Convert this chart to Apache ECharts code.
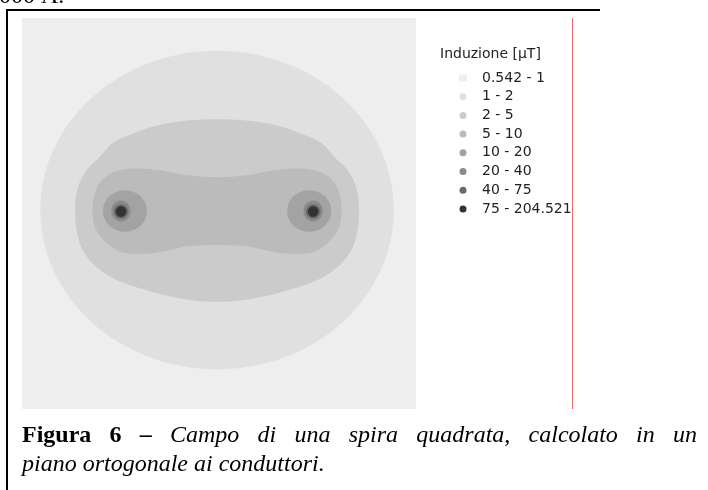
<!DOCTYPE html>
<html>
<head>
<meta charset="utf-8">
<script src="https://cdn.jsdelivr.net/npm/echarts@6/dist/echarts.min.js"></script>
<style>
  html, body { margin: 0; padding: 0; background: #fff; }
  #chart { width: 708px; height: 490px; }
</style>
</head>
<body>
<div id="chart"></div>
<script>
// classi di induzione [μT]
const levels = ['0.542 - 1', '1 - 2', '2 - 5', '5 - 10', '10 - 20', '20 - 40', '40 - 75', '75 - 204.521']
const levelColors = ['#eeeeee', '#e0e0e0', '#cbcbcb', '#bbbbbb', '#a3a3a3', '#8a8a8a', '#6a6a6a', '#333333']

// piano di calcolo (conduttori a x = -1 e x = +1)
const extentX = [-2.02, 2.06]
const extentY = [-2.05, 2.0]
const background = [[-2.02, 2.0], [2.06, 2.0], [2.06, -2.05], [-2.02, -2.05]]

// curve di livello lette dalla figura
// ellissi: [cx, cy, rx, ry]
const outerOval = [[0, 0.01, 1.83, 1.65]]
const peanut = [
  [0, 0.95], [-0.38, 0.93], [-0.66, 0.875], [-0.90, 0.79], [-1.08, 0.705], [-1.21, 0.565],
  [-1.35, 0.425], [-1.44, 0.25], [-1.47, 0.045], [-1.455, -0.195], [-1.39, -0.405], [-1.25, -0.58],
  [-1.04, -0.715], [-0.73, -0.82], [-0.38, -0.905], [0, -0.94], [0.38, -0.905], [0.73, -0.82],
  [1.04, -0.715], [1.25, -0.58], [1.39, -0.405], [1.455, -0.195], [1.47, 0.045], [1.44, 0.25],
  [1.35, 0.425], [1.21, 0.565], [1.08, 0.705], [0.90, 0.79], [0.66, 0.875], [0.38, 0.93]
]
const dumbbell = [
  [0, 0.35], [-0.31, 0.37], [-0.49, 0.405], [-0.66, 0.43], [-0.83, 0.44], [-1.0, 0.425],
  [-1.14, 0.365], [-1.23, 0.27], [-1.275, 0.15], [-1.29, 0.01], [-1.275, -0.13], [-1.23, -0.23],
  [-1.14, -0.335], [-1.0, -0.42], [-0.83, -0.445], [-0.66, -0.435], [-0.49, -0.405], [-0.31, -0.365],
  [0, -0.35], [0.31, -0.365], [0.49, -0.405], [0.66, -0.435], [0.83, -0.445], [1.0, -0.42],
  [1.14, -0.335], [1.23, -0.23], [1.275, -0.13], [1.29, 0.01], [1.275, 0.15], [1.23, 0.27],
  [1.14, 0.365], [1.0, 0.425], [0.83, 0.44], [0.66, 0.43], [0.49, 0.405], [0.31, 0.37]
]
const ring10 = [[-0.954, 0, 0.228, 0.215], [0.954, 0, 0.228, 0.215]]
const ring20 = [[-0.995, 0, 0.10, 0.11], [0.995, 0, 0.10, 0.11]]
const ring40 = [[-0.995, -0.005, 0.075, 0.075], [0.995, -0.005, 0.075, 0.075]]
const core75 = [[-0.995, -0.005, 0.055, 0.055], [0.995, -0.005, 0.055, 0.055]]

function polySeries(name, color, pts, smooth) {
  return {
    type: 'custom',
    name: name,
    coordinateSystem: 'cartesian2d',
    silent: true,
    animation: false,
    itemStyle: { color: color },
    data: pts,
    renderItem: function(params, api) {
      if (params.dataIndex !== 0) return null
      return {
        type: 'polygon',
        shape: { points: pts.map(p => api.coord(p)), smooth: smooth },
        style: { fill: color }
      }
    }
  }
}

function ellipseSeries(name, color, list) {
  return {
    type: 'custom',
    name: name,
    coordinateSystem: 'cartesian2d',
    silent: true,
    animation: false,
    itemStyle: { color: color },
    data: list,
    renderItem: function(params, api) {
      const c = api.coord([api.value(0), api.value(1)])
      const s = api.size([api.value(2), api.value(3)])
      return {
        type: 'ellipse',
        shape: { cx: c[0], cy: c[1], rx: s[0], ry: s[1] },
        style: { fill: color }
      }
    }
  }
}

// didascalia giustificata
const ctx = document.createElement('canvas').getContext('2d')
function textW(font, t) {
  ctx.font = font
  return ctx.measureText(t).width
}
const boldFont = 'bold 24px "Liberation Serif"'
const itFont = 'italic 24px "Liberation Serif"'
const line1 = [
  ['Figura', boldFont], ['6', boldFont], ['–', boldFont], ['Campo', itFont], ['di', itFont],
  ['una', itFont], ['spira', itFont], ['quadrata,', itFont], ['calcolato', itFont], ['in', itFont], ['un', itFont]
]
const lineLeft = 22
const lineRight = 697
let wordsW = 0
line1.forEach(w => { wordsW += textW(w[1], w[0]) })
const gap = (lineRight - lineLeft - wordsW) / (line1.length - 1)
const captionEls = []
let cx = lineLeft
line1.forEach(w => {
  captionEls.push({
    type: 'text', x: cx, y: 436,
    style: { text: w[0], font: w[1], fill: '#000', verticalAlign: 'middle' }
  })
  cx += textW(w[1], w[0]) + gap
})
captionEls.push({
  type: 'text', x: lineLeft, y: 465,
  style: { text: 'piano ortogonale ai conduttori.', font: itFont, fill: '#000', verticalAlign: 'middle' }
})

const chart = echarts.init(document.getElementById('chart'), null, { renderer: 'canvas' })
chart.setOption({
  animation: false,
  backgroundColor: '#fff',
  grid: { left: 22, top: 18, width: 394, height: 391 },
  xAxis: { type: 'value', min: extentX[0], max: extentX[1], show: false },
  yAxis: { type: 'value', min: extentY[0], max: extentY[1], show: false },
  legend: {
    orient: 'vertical',
    left: 454,
    top: 66,
    itemWidth: 8,
    itemHeight: 7,
    itemGap: 4.7,
    selectedMode: false,
    formatter: n => '{g|}' + n,
    textStyle: {
      fontFamily: 'DejaVu Sans', fontSize: 14, lineHeight: 14, color: '#222',
      rich: { g: { width: 10 } }
    },
    data: levels.map((n, i) => ({ name: n, icon: i === 0 ? 'rect' : 'circle' }))
  },
  series: [
    polySeries(levels[0], levelColors[0], background, 0),
    ellipseSeries(levels[1], levelColors[1], outerOval),
    polySeries(levels[2], levelColors[2], peanut, 0.35),
    polySeries(levels[3], levelColors[3], dumbbell, 0.35),
    ellipseSeries(levels[4], levelColors[4], ring10),
    ellipseSeries(levels[5], levelColors[5], ring20),
    ellipseSeries(levels[6], levelColors[6], ring40),
    ellipseSeries(levels[7], levelColors[7], core75)
  ],
  graphic: [
    { type: 'rect', shape: { x: 6, y: 9, width: 2, height: 481 }, style: { fill: '#000' } },
    { type: 'rect', shape: { x: 6, y: 9, width: 594, height: 2 }, style: { fill: '#000' } },
    { type: 'line', shape: { x1: 572.5, y1: 18, x2: 572.5, y2: 409 }, style: { stroke: '#e86a6a', lineWidth: 1 } },
    { type: 'text', x: -1, y: 9, style: { text: '000 A.', font: '24px "Liberation Serif"', fill: '#000', verticalAlign: 'bottom' } },
    { type: 'text', x: 440, y: 54, style: { text: 'Induzione [μT]', font: '14px "DejaVu Sans"', fill: '#222', verticalAlign: 'middle' } }
  ].concat(captionEls)
})
</script>
</body>
</html>
